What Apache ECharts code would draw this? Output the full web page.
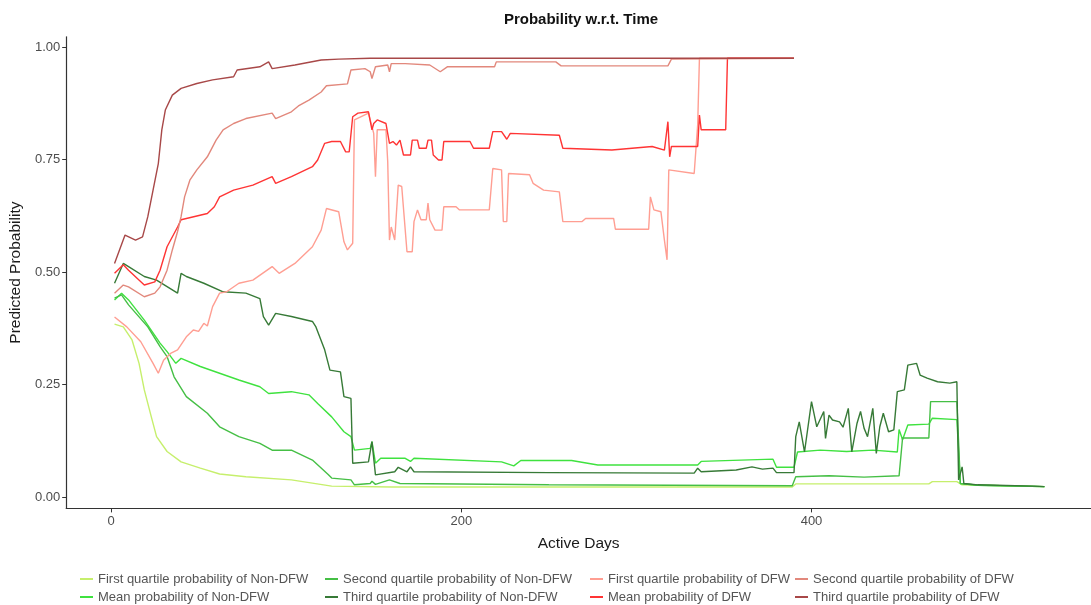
<!DOCTYPE html>
<html>
<head>
<meta charset="utf-8">
<script src="https://cdn.jsdelivr.net/npm/echarts@6/dist/echarts.min.js"></script>
<style>html,body{margin:0;padding:0;background:#fff;}#c{width:1091px;height:605px;}</style>
</head>
<body>
<div id="c"></div>
<script>
// ---- Data (day, predicted probability) ----
const fqNonDFW = [[2,0.384],[7,0.378],[12,0.349],[16,0.297],[19,0.238],[23,0.178],[26,0.134],[32,0.101],[40,0.078],[51,0.064],[62,0.051],[77,0.045],[103,0.038],[126,0.024],[160,0.022],[250,0.022],[389,0.022],[391,0.029],[467,0.029],[469,0.034],[483,0.034],[486,0.027],[533,0.023]];
const sqNonDFW = [[2,0.442],[6,0.449],[10,0.427],[21,0.378],[28,0.334],[32,0.312],[36,0.267],[43,0.223],[55,0.186],[62,0.156],[73,0.134],[85,0.119],[92,0.104],[103,0.104],[115,0.082],[124,0.05],[126,0.042],[137,0.038],[139,0.027],[148,0.03],[149,0.035],[151,0.028],[159,0.038],[165,0.03],[250,0.027],[389,0.025],[391,0.045],[410,0.047],[430,0.044],[450,0.047],[452,0.131],[467,0.131],[468,0.212],[483,0.212],[485,0.03],[495,0.026],[533,0.023]];
const meanNonDFW = [[2,0.438],[6,0.453],[10,0.438],[19,0.393],[28,0.342],[32,0.323],[37,0.297],[40,0.308],[51,0.29],[62,0.275],[73,0.26],[85,0.245],[90,0.23],[103,0.234],[113,0.227],[118,0.208],[126,0.178],[133,0.145],[137,0.134],[139,0.104],[148,0.108],[149,0.123],[151,0.075],[154,0.086],[168,0.086],[171,0.079],[173,0.086],[223,0.078],[230,0.069],[234,0.081],[263,0.081],[278,0.071],[335,0.071],[337,0.079],[378,0.084],[380,0.066],[390,0.066],[392,0.10],[405,0.104],[420,0.101],[435,0.104],[449,0.10],[450,0.15],[452,0.127],[455,0.16],[467,0.162],[469,0.175],[483,0.172],[485,0.03],[495,0.026],[533,0.023]];
const tqNonDFW = [[2,0.475],[7,0.519],[10,0.512],[19,0.49],[26,0.482],[38,0.453],[40,0.497],[43,0.49],[53,0.475],[64,0.456],[77,0.453],[85,0.441],[87,0.401],[90,0.382],[94,0.408],[103,0.401],[115,0.39],[117,0.378],[122,0.327],[125,0.282],[131,0.278],[133,0.223],[137,0.219],[138,0.075],[147,0.078],[149,0.123],[151,0.049],[162,0.056],[164,0.066],[169,0.056],[171,0.067],[173,0.056],[250,0.054],[333,0.053],[335,0.064],[337,0.056],[357,0.06],[366,0.067],[372,0.062],[378,0.064],[380,0.054],[390,0.054],[391,0.134],[393,0.167],[396,0.10],[400,0.212],[403,0.156],[407,0.19],[408,0.13],[410,0.182],[412,0.171],[416,0.167],[418,0.155],[421,0.197],[423,0.10],[426,0.164],[428,0.19],[430,0.153],[432,0.134],[435,0.197],[437,0.097],[439,0.156],[441,0.186],[444,0.145],[447,0.149],[449,0.234],[453,0.238],[455,0.293],[460,0.297],[462,0.271],[466,0.264],[472,0.256],[479,0.253],[483,0.256],[484,0.038],[486,0.067],[487,0.03],[495,0.027],[527,0.024],[533,0.023]];
const fqDFW = [[2,0.40],[9,0.378],[17,0.345],[24,0.297],[27,0.275],[30,0.304],[34,0.319],[38,0.327],[43,0.356],[47,0.371],[50,0.368],[53,0.386],[55,0.38],[58,0.423],[62,0.453],[66,0.456],[73,0.475],[81,0.482],[92,0.512],[96,0.497],[105,0.519],[115,0.556],[120,0.593],[123,0.641],[130,0.634],[133,0.567],[135,0.549],[138,0.564],[139,0.838],[147,0.853],[150,0.808],[151,0.712],[152,0.816],[157,0.816],[158,0.745],[159,0.571],[160,0.60],[162,0.571],[164,0.693],[166,0.69],[169,0.545],[172,0.545],[173,0.612],[175,0.638],[177,0.616],[180,0.616],[181,0.653],[182,0.616],[185,0.593],[189,0.593],[190,0.645],[197,0.645],[199,0.638],[216,0.638],[218,0.73],[223,0.727],[224,0.612],[226,0.612],[227,0.719],[239,0.716],[241,0.697],[247,0.682],[256,0.678],[258,0.612],[269,0.612],[271,0.619],[287,0.619],[288,0.595],[307,0.595],[308,0.667],[310,0.638],[314,0.634],[316,0.571],[317.5,0.527],[318.5,0.727],[333,0.719],[335,0.827],[336,0.975],[390,0.975]];
const sqDFW = [[2,0.453],[7,0.471],[10,0.467],[19,0.445],[25,0.453],[28,0.467],[32,0.504],[35,0.549],[38,0.59],[40,0.623],[42,0.667],[45,0.704],[49,0.727],[55,0.756],[60,0.793],[64,0.816],[70,0.83],[77,0.841],[92,0.853],[94,0.841],[103,0.856],[107,0.869],[113,0.882],[120,0.90],[123,0.914],[135,0.918],[137,0.949],[145,0.952],[148,0.945],[149,0.93],[151,0.956],[158,0.96],[159,0.945],[160,0.963],[168,0.963],[169,0.96],[182,0.96],[188,0.945],[192,0.956],[219,0.956],[220,0.967],[254,0.967],[257,0.958],[318,0.958],[320,0.973],[390,0.975]];
const meanDFW = [[2,0.497],[7,0.516],[10,0.504],[19,0.471],[25,0.478],[28,0.504],[32,0.556],[38,0.60],[40,0.616],[55,0.63],[59,0.645],[62,0.667],[70,0.682],[81,0.693],[92,0.712],[94,0.697],[103,0.712],[115,0.734],[118,0.749],[122,0.786],[126,0.79],[131,0.79],[134,0.767],[136,0.767],[138,0.845],[141,0.853],[147,0.856],[149,0.816],[150,0.83],[152,0.838],[157,0.83],[159,0.786],[161,0.79],[163,0.782],[165,0.793],[167,0.76],[171,0.76],[172,0.793],[175,0.793],[176,0.775],[180,0.775],[181,0.793],[183,0.793],[184,0.76],[187,0.749],[189,0.749],[190,0.79],[205,0.79],[207,0.775],[216,0.775],[218,0.812],[223,0.812],[226,0.795],[228,0.808],[256,0.804],[258,0.775],[286,0.771],[309,0.779],[316,0.771],[318,0.834],[319,0.756],[320,0.779],[335,0.779],[336,0.849],[337,0.816],[351,0.816],[352,0.975],[390,0.975]];
const tqDFW = [[2,0.519],[8,0.582],[14,0.571],[18,0.578],[21,0.623],[24,0.682],[27,0.741],[29,0.816],[31,0.86],[35,0.893],[40,0.908],[49,0.919],[58,0.927],[70,0.934],[72,0.949],[85,0.956],[90,0.967],[92,0.952],[105,0.96],[120,0.971],[130,0.973],[148,0.975],[390,0.975]];

const xTicks = [0, 200, 400];
const yTicks = [0, 0.25, 0.5, 0.75, 1.0];

const seriesNames = [
  'First quartile probability of Non-DFW',
  'Mean probability of Non-DFW',
  'Second quartile probability of Non-DFW',
  'Third quartile probability of Non-DFW',
  'First quartile probability of DFW',
  'Mean probability of DFW',
  'Second quartile probability of DFW',
  'Third quartile probability of DFW'
];
const seriesData = [fqNonDFW, meanNonDFW, sqNonDFW, tqNonDFW, fqDFW, meanDFW, sqDFW, tqDFW];
const seriesColors = ['#c6ef6c', '#3fe23f', '#45bf45', '#377a37', '#ff9e92', '#ff3434', '#e2887c', '#a84848'];

const FONT = 'Liberation Sans, Arial, Helvetica, sans-serif';
const chart = echarts.init(document.getElementById('c'), null, {renderer: 'canvas'});

const legendCols = [80, 325, 590, 795];
const legends = legendCols.map((x, i) => ({
  orient: 'vertical',
  left: x,
  top: 571,
  itemWidth: 13,
  itemHeight: 2,
  itemGap: 2,
  icon: 'rect',
  padding: 0,
  selectedMode: false,
  data: [seriesNames[2 * i], seriesNames[2 * i + 1]],
  textStyle: {fontFamily: FONT, fontSize: 13, color: '#555', lineHeight: 16}
}));

chart.setOption({
  animation: false,
  backgroundColor: '#fff',
  graphic: [{
    type: 'text', x: 581, y: 12,
    style: {text: 'Probability w.r.t. Time', font: 'bold 15px ' + FONT, fill: '#111', textAlign: 'center', textVerticalAlign: 'top'}
  }],
  legend: legends,
  grid: {left: 65, right: -12, top: 36.8, bottom: 96.6, containLabel: false},
  xAxis: {
    type: 'value', min: -25.6, max: 559.6,
    name: 'Active Days', nameLocation: 'middle', nameGap: 27,
    nameTextStyle: {fontFamily: FONT, fontSize: 15.5, color: '#1a1a1a'},
    axisLine: {show: true, onZero: false, lineStyle: {color: '#333', width: 1.2}},
    axisTick: {show: true, inside: false, length: 4, lineStyle: {color: '#333'}, customValues: xTicks},
    axisLabel: {fontFamily: FONT, fontSize: 13, color: '#4d4d4d', margin: 7, customValues: xTicks},
    splitLine: {show: false}
  },
  yAxis: {
    type: 'value', min: -0.0254, max: 1.0227,
    name: 'Predicted Probability', nameLocation: 'middle', nameGap: 39, nameRotate: 90,
    nameTextStyle: {fontFamily: FONT, fontSize: 15.5, color: '#1a1a1a'},
    axisLine: {show: true, onZero: false, lineStyle: {color: '#333', width: 1.2}},
    axisTick: {show: true, inside: false, length: 4, lineStyle: {color: '#333'}, customValues: yTicks},
    axisLabel: {fontFamily: FONT, fontSize: 13, color: '#4d4d4d', margin: 6, customValues: yTicks,
      formatter: v => v.toFixed(2)},
    splitLine: {show: false}
  },
  series: seriesNames.map((n, i) => ({
    name: n, type: 'line', data: seriesData[i], showSymbol: false, symbol: 'none',
    color: seriesColors[i],
    lineStyle: {width: 1.4, color: seriesColors[i]},
    emphasis: {disabled: true}
  }))
});
</script>
</body>
</html>
